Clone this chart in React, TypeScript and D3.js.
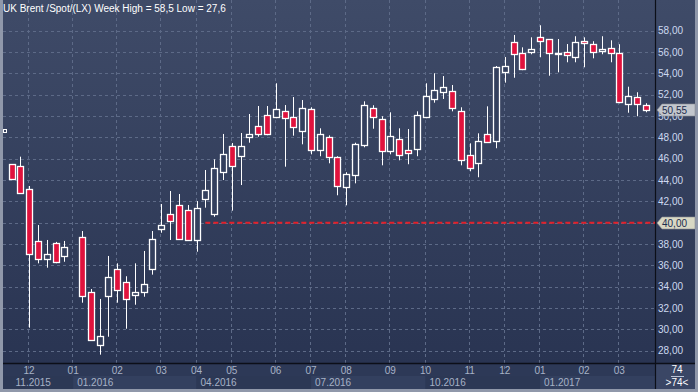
import * as d3 from "d3";
import { useRef, useEffect } from "react";

// weekly candles, UK Brent spot
const opens = [45.48, 45.29, 43.13, 38.26, 36.57, 38.07, 36.85, 37.32, 38.66, 33.48, 28.56, 33.1, 35.63, 34.41, 33.25, 33.53, 35.69, 39.44, 40.79, 41.63, 41.16, 38.41, 42.25, 40.84, 44.73, 47.16, 46.28, 48.06, 49.04, 50.07, 49.88, 50.44, 49.88, 48.57, 50.63, 46.79, 48.01, 46.13, 43.32, 44.44, 47.26, 50.73, 49.69, 46.69, 47.82, 46.79, 46.88, 49.88, 51.57, 52.23, 52.32, 50.44, 46.32, 45.57, 48.29, 47.63, 54.1, 56.91, 55.88, 55.98, 57.38, 57.19, 55.79, 55.98, 55.51, 57.01, 56.72, 56.07, 56.35, 55.88, 51.1, 51.76, 51.01];
const highs = [45.5, 46.19, 43.44, 39.78, 38.38, 38.2, 38.29, 37.32, 39.22, 33.78, 32.85, 36.88, 36.19, 34.98, 36.19, 37.35, 39.22, 41.75, 42.97, 42.69, 41.66, 42.03, 44.94, 45.94, 48.32, 47.47, 48.41, 50.19, 50.94, 50.94, 53.07, 51.03, 51.78, 51.5, 50.82, 48.85, 48.19, 46.23, 44.73, 47.5, 51.38, 51.01, 49.98, 50.35, 48.85, 48.78, 50.44, 53.07, 54.01, 53.75, 52.91, 50.82, 47.44, 48.38, 50.91, 54.69, 55.53, 57.6, 56.44, 57.38, 58.51, 57.2, 57.22, 56.75, 57.48, 57.38, 57.01, 57.48, 57.1, 56.73, 52.75, 52.23, 51.2];
const lows = [44.0, 42.7, 30.16, 36.19, 35.78, 36.2, 36.34, 37.32, 32.5, 29.0, 27.63, 29.31, 32.5, 30.06, 32.31, 33.06, 35.13, 39.06, 38.38, 38.4, 38.35, 37.28, 41.41, 40.56, 44.0, 41.13, 43.53, 47.5, 48.06, 48.2, 49.8, 45.25, 48.16, 47.35, 46.41, 46.23, 45.57, 42.57, 41.63, 43.69, 47.07, 48.81, 45.38, 46.41, 45.85, 45.48, 46.23, 49.8, 51.25, 51.6, 50.44, 45.38, 44.82, 44.26, 47.5, 46.98, 53.13, 53.59, 54.3, 55.79, 55.51, 53.78, 54.1, 55.04, 55.04, 54.57, 55.41, 55.79, 55.04, 51.2, 50.31, 49.98, 50.35];
const closes = [44.07, 42.76, 37.04, 36.57, 37.04, 36.29, 37.69, 37.32, 33.16, 29.03, 29.38, 34.88, 33.66, 32.82, 33.48, 34.23, 38.44, 39.76, 40.19, 38.5, 38.41, 41.35, 43.04, 45.1, 46.41, 45.29, 47.16, 48.29, 48.29, 48.29, 50.63, 49.79, 48.94, 50.73, 46.79, 48.29, 46.13, 43.41, 44.54, 47.35, 51.01, 49.88, 46.69, 48.1, 46.32, 46.51, 50.07, 51.85, 52.41, 52.69, 50.73, 45.85, 45.1, 47.63, 47.54, 54.57, 54.66, 55.79, 54.38, 56.26, 57.01, 55.88, 55.88, 55.69, 56.91, 56.82, 55.98, 56.26, 55.88, 51.34, 51.85, 51.1, 50.55];

const priceTicks = [28, 30, 32, 34, 36, 38, 40, 42, 44, 46, 48, 50, 52, 54, 56, 58];
const monthLabels = ["12", "01", "02", "03", "04", "05", "06", "07", "08", "09", "10", "11", "12", "01", "02", "03"];
const monthStarts = [2, 7, 12, 17, 21, 25, 30, 34, 38, 43, 47, 52, 56, 60, 65, 69];
const quarterLabels = ["11.2015", "01.2016", "04.2016", "07.2016", "10.2016", "01.2017"];
const quarterStarts = [0, 7, 21, 34, 47, 60];

const title = "UK Brent /Spot/(LX) Week High = 58,5 Low = 27,6";
const lastPrice = 50.55;
const markLevel = 40;
const markFrom = 22;
const leftMarker = 48.6;
const barCount = "74";

const W = 698;
const H = 392;
const FONT = "Liberation Sans, Arial, sans-serif";

const fmt = (v: number) => v.toFixed(2).replace(".", ",");

const App = () => {
  const ref = useRef<SVGSVGElement>(null);

  useEffect(() => {
    const svg = d3.select(ref.current);
    svg.selectAll("*").remove();

    const left = 3, right = 655, top = 0, bottom = 363, axisRight = 695, frameBottom = 389;

    const x = d3.scaleLinear().domain([-1, closes.length]).range([2.7, 654.6]);
    const y = d3.scaleLinear().domain([28, 58]).range([350.7, 30.7]);

    const defs = svg.append("defs");
    const grad = defs.append("linearGradient")
      .attr("id", "bg").attr("x1", 0).attr("y1", 0).attr("x2", 0).attr("y2", 1);
    grad.append("stop").attr("offset", "0%").attr("stop-color", "#3f4b68");
    grad.append("stop").attr("offset", "100%").attr("stop-color", "#293452");

    // frame + panels
    svg.append("rect").attr("width", W).attr("height", H).attr("fill", "#9098aa");
    svg.append("rect").attr("x", left).attr("y", top)
      .attr("width", axisRight - left).attr("height", bottom - top).attr("fill", "url(#bg)");
    svg.append("rect").attr("x", left).attr("y", bottom)
      .attr("width", axisRight - left).attr("height", frameBottom - bottom).attr("fill", "#2d3957");

    // lower row of the time axis: quarter blocks
    quarterStarts.forEach((q, i) => {
      const x0 = i === 0 ? left : x(q);
      const x1 = i < quarterStarts.length - 1 ? x(quarterStarts[i + 1]) : right;
      svg.append("rect")
        .attr("x", x0).attr("y", 376)
        .attr("width", x1 - x0).attr("height", frameBottom - 376)
        .attr("fill", i % 2 ? "#33405f" : "#2c3855");
    });

    // corner box
    svg.append("rect").attr("x", right + 1).attr("y", bottom + 1)
      .attr("width", axisRight - right - 1).attr("height", frameBottom - bottom - 1)
      .attr("fill", "#3a4665");

    // grid
    svg.append("g").selectAll("line").data(priceTicks).join("line")
      .attr("x1", left).attr("x2", right)
      .attr("y1", d => Math.round(y(d)) + 0.5).attr("y2", d => Math.round(y(d)) + 0.5)
      .attr("stroke", "#5d6a87").attr("stroke-dasharray", "3,3");
    svg.append("g").selectAll("line").data(monthStarts).join("line")
      .attr("x1", d => Math.round(x(d)) - 0.5).attr("x2", d => Math.round(x(d)) - 0.5)
      .attr("y1", top).attr("y2", bottom + 6)
      .attr("stroke", "#5d6a87").attr("stroke-dasharray", "3,3");

    // separators
    svg.append("line").attr("x1", right + 0.5).attr("x2", right + 0.5)
      .attr("y1", 0).attr("y2", frameBottom).attr("stroke", "#0c0f18").attr("stroke-width", 1.2);
    svg.append("line").attr("x1", left).attr("x2", axisRight)
      .attr("y1", bottom + 0.5).attr("y2", bottom + 0.5).attr("stroke", "#0c0f18").attr("stroke-width", 1.6);

    // 40 line
    svg.append("line")
      .attr("x1", x(markFrom)).attr("x2", right)
      .attr("y1", y(markLevel)).attr("y2", y(markLevel))
      .attr("stroke", "#e3202a").attr("stroke-width", 2).attr("stroke-dasharray", "5,3");

    // left marker
    svg.append("rect").attr("x", 3.5).attr("y", Math.round(y(leftMarker)) - 1.5)
      .attr("width", 3).attr("height", 3).attr("fill", "none").attr("stroke", "#ffffff");

    // candles
    const idx = d3.range(closes.length);
    const g = svg.append("g");
    g.selectAll("line").data(idx).join("line")
      .attr("x1", i => Math.round(x(i)) + 0.5).attr("x2", i => Math.round(x(i)) + 0.5)
      .attr("y1", i => y(highs[i])).attr("y2", i => y(lows[i]))
      .attr("stroke", "#ffffff");
    g.selectAll("rect").data(idx).join("rect")
      .attr("x", i => Math.round(x(i)) - 2.5)
      .attr("y", i => Math.round(y(Math.max(opens[i], closes[i]))) + 0.5)
      .attr("width", 6)
      .attr("height", i => Math.max(0, Math.round(y(Math.min(opens[i], closes[i]))) - Math.round(y(Math.max(opens[i], closes[i])))))
      .attr("fill", i => (closes[i] < opens[i] ? "#e0123d" : "#34405e"))
      .attr("stroke", "#ffffff").attr("stroke-width", 1.3);

    // price axis labels (the 40 level is carried by its tag)
    svg.append("g").selectAll("text").data(priceTicks.filter(d => d !== markLevel)).join("text")
      .attr("x", 658).attr("y", d => y(d) + 3.5)
      .attr("font-family", FONT).attr("font-size", 10).attr("fill", "#cdd9f0")
      .text(d => fmt(d));

    const tag = (v: number, fill: string) => {
      const yy = Math.round(y(v));
      svg.append("path")
        .attr("d", `M657,${yy} L662,${yy - 6} L695,${yy - 6} L695,${yy + 6} L662,${yy + 6} Z`)
        .attr("fill", fill).attr("stroke", "#8c8f96").attr("stroke-width", 0.6);
      svg.append("text").attr("x", 662).attr("y", yy + 4)
        .attr("font-family", FONT).attr("font-size", 10).attr("fill", "#1c2c4e")
        .text(fmt(v));
    };
    tag(lastPrice, "#c2c6cd");
    tag(markLevel, "#d8d8c4");

    // time axis labels
    svg.append("g").selectAll("text").data(monthStarts).join("text")
      .attr("x", d => x(d)).attr("y", 374).attr("text-anchor", "middle")
      .attr("font-family", FONT).attr("font-size", 10).attr("fill", "#a7b2c6")
      .text((d, i) => monthLabels[i]);
    svg.append("g").selectAll("text").data(quarterStarts).join("text")
      .attr("x", d => x(d) + 4).attr("y", 386)
      .attr("font-family", FONT).attr("font-size", 10).attr("fill", "#a7b2c6")
      .text((d, i) => quarterLabels[i]);

    // corner count
    svg.append("text").attr("x", 677).attr("y", 373).attr("text-anchor", "middle")
      .attr("font-family", FONT).attr("font-size", 10).attr("fill", "#ffffff").text(barCount);
    svg.append("line").attr("x1", 671).attr("x2", 684).attr("y1", 376.5).attr("y2", 376.5)
      .attr("stroke", "#b8c2d6");
    svg.append("text").attr("x", 677).attr("y", 386).attr("text-anchor", "middle")
      .attr("font-family", FONT).attr("font-size", 10).attr("fill", "#ffffff").text(`>${barCount}<`);

    // title
    svg.append("text").attr("x", 3).attr("y", 12)
      .attr("font-family", FONT).attr("font-size", 10).attr("fill", "#ffffff")
      .text(title);
  }, []);

  return (
    <svg ref={ref} width={W} height={H}
      style={{ position: "fixed", left: 0, top: 0, display: "block" }} />
  );
};

export default App;
